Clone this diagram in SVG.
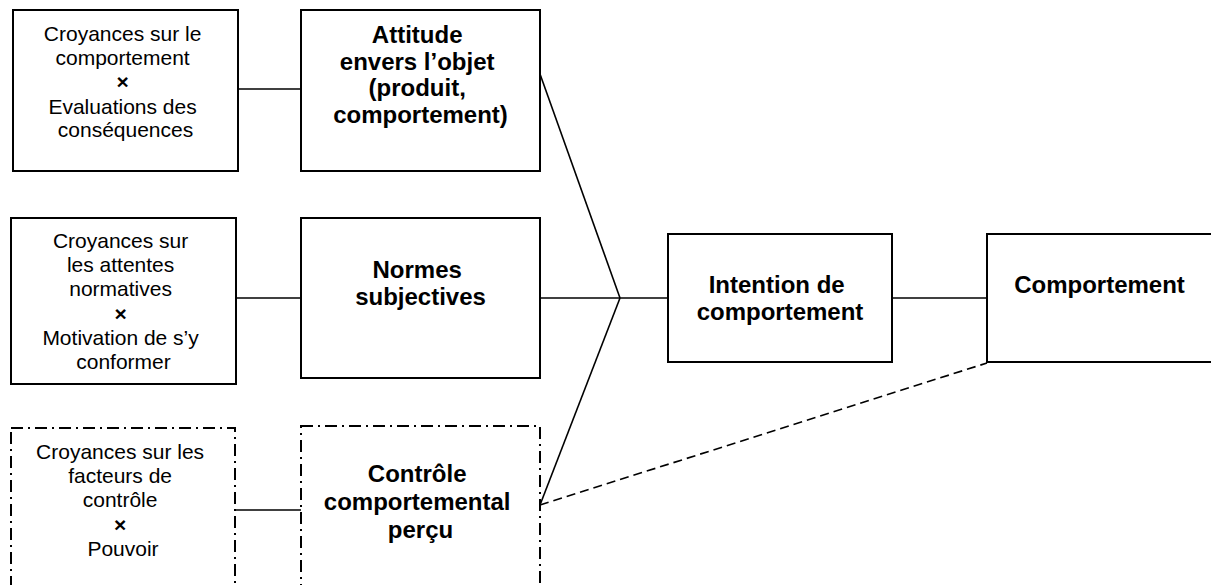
<svg xmlns="http://www.w3.org/2000/svg" width="1211" height="585" viewBox="0 0 1211 585">
  <style>
    .box { fill: #fff; stroke: #000; stroke-width: 2; }
    .dashdot { stroke-dasharray: 12 5 2 5; }
    .link { fill: none; stroke: #000; stroke-width: 1.6; }
    .dashed { stroke-dasharray: 9 5; }
    .reg { font-family: "Liberation Sans", Arial, sans-serif; font-size: 21px; text-anchor: middle; fill: #000; }
    .bold { font-family: "Liberation Sans", Arial, sans-serif; font-size: 24px; font-weight: bold; text-anchor: middle; fill: #000; }
    .times { font-weight: bold; }
  </style>
  <rect width="1211" height="585" fill="#fff"/>

  <!-- connectors -->
  <g id="connectors">
    <line class="link" x1="238" y1="89" x2="301" y2="89"/>
    <line class="link" x1="236" y1="298" x2="301" y2="298"/>
    <line class="link" x1="235" y1="510" x2="301" y2="510"/>
    <line class="link" x1="540" y1="74" x2="620" y2="298"/>
    <line class="link" x1="540" y1="298" x2="668" y2="298"/>
    <line class="link" x1="540" y1="505" x2="620" y2="298"/>
    <line class="link" x1="892" y1="298" x2="987" y2="298"/>
    <line class="link dashed" x1="540" y1="505" x2="987" y2="363"/>
  </g>

  <!-- row 1 -->
  <g id="croyances-comportement">
    <rect class="box" x="13" y="10" width="225" height="161"/>
    <text class="reg" x="125.5" y="41">
      <tspan x="125.5">Croyances sur le</tspan>
      <tspan x="125.5" dy="23.5">comportement</tspan>
      <tspan x="125.5" dy="24.5" class="times">×</tspan>
      <tspan x="125.5" dy="25">Evaluations des</tspan>
      <tspan x="125.5" dy="23">conséquences</tspan>
    </text>
  </g>
  <g id="attitude">
    <rect class="box" x="301" y="10" width="239" height="161"/>
    <text class="bold" x="420.5" y="43">
      <tspan x="420.5">Attitude</tspan>
      <tspan x="420.5" dy="26.7">envers l’objet</tspan>
      <tspan x="420.5" dy="26.7">(produit,</tspan>
      <tspan x="420.5" dy="26.7">comportement)</tspan>
    </text>
  </g>

  <!-- row 2 -->
  <g id="croyances-attentes">
    <rect class="box" x="11" y="218" width="225" height="166"/>
    <text class="reg" x="123.5" y="248">
      <tspan x="123.5">Croyances sur</tspan>
      <tspan x="123.5" dy="24">les attentes</tspan>
      <tspan x="123.5" dy="24">normatives</tspan>
      <tspan x="123.5" dy="24.5" class="times">×</tspan>
      <tspan x="123.5" dy="24.5">Motivation de s’y</tspan>
      <tspan x="123.5" dy="24">conformer</tspan>
    </text>
  </g>
  <g id="normes">
    <rect class="box" x="301" y="218" width="239" height="160"/>
    <text class="bold" x="420.5" y="278">
      <tspan x="420.5">Normes</tspan>
      <tspan x="420.5" dy="27">subjectives</tspan>
    </text>
  </g>

  <!-- row 3 -->
  <g id="croyances-controle">
    <rect class="box dashdot" x="11" y="428" width="224" height="180"/>
    <text class="reg" x="123" y="459">
      <tspan x="123">Croyances sur les</tspan>
      <tspan x="123" dy="24">facteurs de</tspan>
      <tspan x="123" dy="24">contrôle</tspan>
      <tspan x="123" dy="24.5" class="times">×</tspan>
      <tspan x="123" dy="24.5">Pouvoir</tspan>
    </text>
  </g>
  <g id="controle">
    <rect class="box dashdot" x="301" y="426" width="239" height="182"/>
    <text class="bold" x="420.5" y="482">
      <tspan x="420.5">Contrôle</tspan>
      <tspan x="420.5" dy="28">comportemental</tspan>
      <tspan x="420.5" dy="28">perçu</tspan>
    </text>
  </g>

  <!-- right side -->
  <g id="intention">
    <rect class="box" x="668" y="234" width="224" height="128"/>
    <text class="bold" x="780" y="293">
      <tspan x="780">Intention de</tspan>
      <tspan x="780" dy="27">comportement</tspan>
    </text>
  </g>
  <g id="comportement">
    <rect class="box" x="987" y="234" width="226" height="128"/>
    <text class="bold" x="1099.5" y="293">Comportement</text>
  </g>
</svg>
